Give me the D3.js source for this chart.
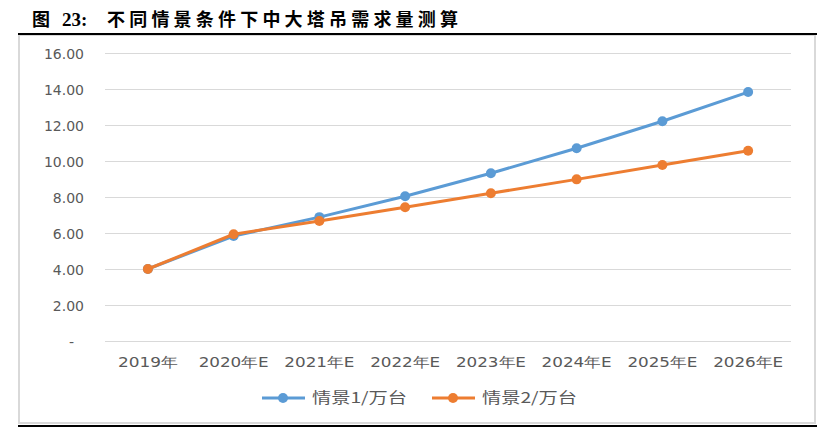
<!DOCTYPE html>
<html><head><meta charset="utf-8">
<script src="https://cdn.jsdelivr.net/npm/d3@7"></script>
<style>body{margin:0;background:#fff;}svg{display:block;}</style>
</head><body>
<svg id="c" width="835" height="427"></svg>
<script>
const categories = ["2019年","2020年E","2021年E","2022年E","2023年E","2024年E","2025年E","2026年E"];
const scenario1 = [4.0, 5.83, 6.88, 8.04, 9.32, 10.71, 12.21, 13.83];
const scenario2 = [4.0, 5.93, 6.67, 7.43, 8.21, 8.98, 9.78, 10.57];
const seriesNames = ["情景1/万台","情景2/万台"];
const colors = ["#5B9BD5","#ED7D31"];
const yTicks = [0,2,4,6,8,10,12,14,16];

const svg = d3.select("#c");
// frame
svg.append("rect").attr("x",19).attr("y",35).attr("width",796).attr("height",388)
  .attr("fill","#fff").attr("stroke","#d9d9d9").attr("stroke-width",2);
svg.append("line").attr("x1",18).attr("x2",817).attr("y1",34).attr("y2",34).attr("stroke","#000").attr("stroke-width",2);
svg.append("line").attr("x1",18).attr("x2",817).attr("y1",426).attr("y2",426).attr("stroke","#000").attr("stroke-width",2);

// title
const tf = "'Noto Sans CJK SC', sans-serif";
svg.append("text").attr("x",32).attr("y",26).attr("font-size",18).attr("font-weight","bold")
  .attr("font-family",tf).text("图");
svg.append("text").attr("x",62).attr("y",26).attr("font-size",19).attr("font-weight","bold")
  .attr("font-family","'Liberation Serif', serif").text("23:");
svg.append("text").attr("x",107).attr("y",26).attr("font-size",18).attr("font-weight","bold")
  .attr("font-family",tf).attr("textLength",351).attr("lengthAdjust","spacing")
  .text("不同情景条件下中大塔吊需求量测算");

const x = d3.scaleBand().domain(categories).range([105,791]);
const y = d3.scaleLinear().domain([0,16]).range([341,53]);

// gridlines
svg.append("g").selectAll("line").data(yTicks).join("line")
  .attr("x1",105).attr("x2",791).attr("y1",d=>y(d)+0.5).attr("y2",d=>y(d)+0.5)
  .attr("stroke","#d9d9d9").attr("stroke-width",1);

const lf = "'DejaVu Sans', sans-serif";
// y axis
const yAxis = d3.axisLeft(y).tickValues(yTicks).tickSize(0).tickPadding(0)
  .tickFormat(d=> d===0 ? "-" : d3.format(".2f")(d));
const gy = svg.append("g").attr("transform","translate(84,0)").call(yAxis);
gy.select(".domain").remove();
gy.selectAll("text").attr("font-size",14).attr("fill","#595959").attr("font-family",lf)
  .attr("dy","0.36em");
gy.selectAll(".tick").filter(d=>d===0).select("text").attr("dx",-10);

// x axis
const xAxis = d3.axisBottom(x).tickSize(0).tickPadding(0);
const gx = svg.append("g").attr("transform","translate(0,357)").call(xAxis);
gx.select(".domain").remove();
gx.selectAll("text").attr("font-size",14).attr("fill","#595959").attr("font-family",lf)
  .attr("dy","0.72em")
  .attr("textLength",d=> d.endsWith("E") ? 70 : 60).attr("lengthAdjust","spacingAndGlyphs");

const series = [scenario1, scenario2];
const cx = (d,i)=>x(categories[i])+x.bandwidth()/2;
const line = d3.line().x(cx).y(d=>y(d));
series.forEach((s,k)=>{
  svg.append("path").datum(s).attr("d",line).attr("fill","none").attr("stroke",colors[k])
    .attr("stroke-width",3).attr("stroke-linejoin","round");
  svg.append("g").selectAll("circle").data(s).join("circle")
    .attr("cx",cx).attr("cy",d=>y(d)).attr("r",5)
    .attr("fill",colors[k]);
});

// legend
const legX = [262, 432];
seriesNames.forEach((n,k)=>{
  const g = svg.append("g").attr("transform",`translate(${legX[k]},398)`);
  g.append("line").attr("x1",0).attr("x2",43).attr("y1",0).attr("y2",0).attr("stroke",colors[k]).attr("stroke-width",3);
  g.append("circle").attr("cx",21).attr("cy",0).attr("r",5).attr("fill",colors[k]);
  g.append("text").attr("x",50).attr("y",0).attr("dy","0.36em").attr("font-size",15).attr("fill","#595959")
    .attr("font-family",tf).attr("textLength",95).attr("lengthAdjust","spacingAndGlyphs").text(n);
});
</script>
</body></html>
